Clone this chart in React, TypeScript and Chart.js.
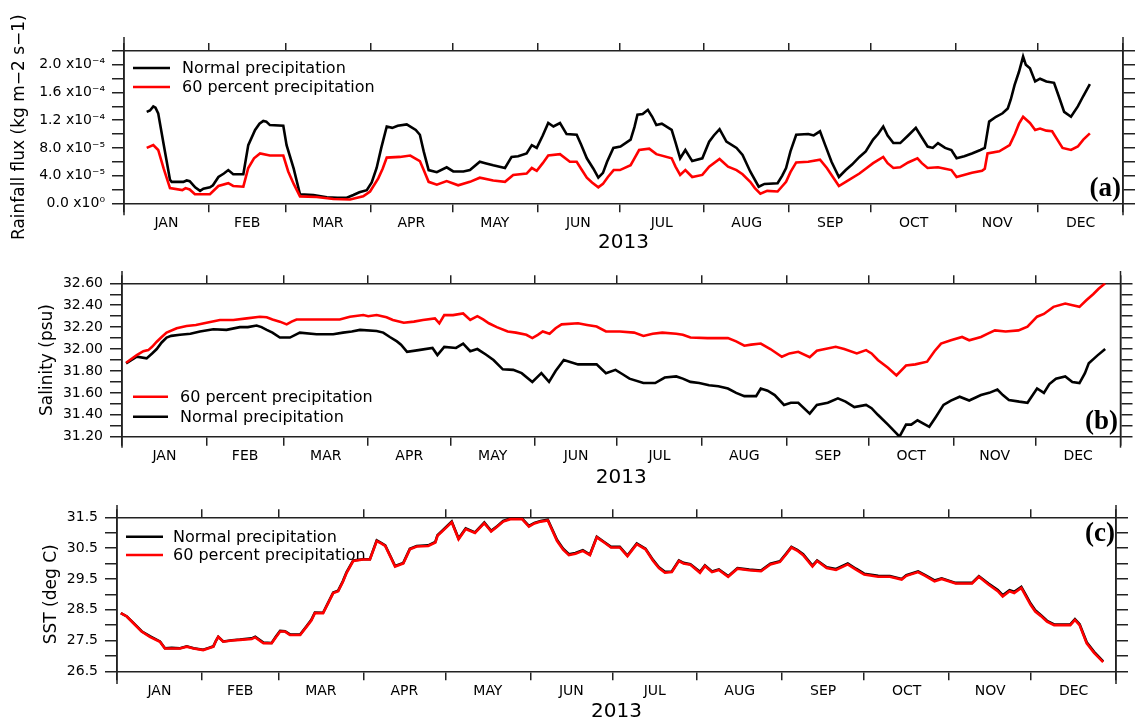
import React, { useEffect, useRef } from 'react';
import { Chart, registerables } from 'chart.js';

Chart.register(...registerables);

type Pt = [number, number];

// ---------- shared axis data ----------
const monthStarts = [0, 31, 59, 90, 120, 151, 181, 212, 243, 273, 304, 334, 365];
const monthLabels = ['JAN', 'FEB', 'MAR', 'APR', 'MAY', 'JUN', 'JUL', 'AUG', 'SEP', 'OCT', 'NOV', 'DEC'];
const yearLabel = '2013';
const normalLabel = 'Normal precipitation';
const sixtyLabel = '60 percent precipitation';

// ---------- panel (a) rainfall flux, values in units of 1e-5 kg m-2 s-1 ----------
const rainTicks = [0, 2, 4, 6, 8, 10, 12, 14, 16, 18, 20, 22];
const rainLabelValues = [0, 4, 8, 12, 16, 20];
const rainLabels = ['0.0 x10⁰', '4.0 x10⁻⁵', '8.0 x10⁻⁵', '1.2 x10⁻⁴', '1.6 x10⁻⁴', '2.0 x10⁻⁴'];
const rainNormal: Pt[] = [
  [8.3, 13.2], [9.5, 13.4], [10.7, 14.0], [11.5, 13.8], [12.5, 13.0], [14.5, 8.5], [16.8, 3.4], [17.4, 3.1], [21.7, 3.1], [22.9, 3.3],
  [24, 3.2], [26, 2.3], [27.8, 1.8], [29, 2.1], [31.4, 2.3], [32.5, 2.6], [34.5, 3.8], [36.5, 4.3], [38.1, 4.8], [39.9, 4.2],
  [43.6, 4.2], [45.4, 8.4], [47.9, 10.6], [49.5, 11.5], [50.9, 11.9], [52, 11.8], [53.3, 11.3], [58.2, 11.2], [59.4, 8.4], [62, 5.0],
  [64.3, 1.3], [69.2, 1.2], [74.1, 0.87], [78, 0.8], [81.4, 0.8], [83.8, 1.2], [86, 1.6], [88.7, 1.9], [90.5, 3.0], [92.3, 5.1],
  [94, 8.0], [96, 11.1], [98, 10.9], [100, 11.2], [103.3, 11.4], [106.6, 10.6], [108.1, 9.9], [109.5, 7.5], [111.3, 4.8], [114.3, 4.5],
  [117.9, 5.2], [120.3, 4.6], [124, 4.6], [126.4, 4.8], [130, 6.0], [132, 5.8], [134.9, 5.5], [139.2, 5.1], [141.6, 6.7], [144, 6.8],
  [147.1, 7.2], [149, 8.4], [150.8, 8.0], [153, 9.8], [155, 11.6], [156.9, 11.1], [159.3, 11.6], [161.7, 10.0], [165.4, 9.9], [167, 8.5],
  [169.1, 6.5], [171.5, 5.0], [173.3, 3.7], [175, 4.4], [176.5, 6.0], [178.8, 8.0], [181.4, 8.2], [185.1, 9.2], [186.5, 11.0], [187.6, 12.8],
  [189.5, 12.9], [191.4, 13.5], [193, 12.5], [194.5, 11.3], [196.5, 11.5], [200.1, 10.6], [201.5, 8.8], [203.2, 6.5], [205.1, 7.7], [207.6, 6.1],
  [211.3, 6.5], [213.8, 8.9], [215.5, 9.8], [217.6, 10.7], [220.1, 8.9], [223.8, 8.0], [226, 7.0], [228.8, 4.6], [231.9, 2.4], [234, 2.8],
  [238.8, 2.9], [240.5, 4.0], [241.9, 5.1], [243.5, 7.5], [245.6, 9.9], [250, 10.0], [252, 9.8], [254.3, 10.4], [256.2, 8.4], [258.5, 6.0],
  [261.2, 3.8], [263.7, 4.8], [266, 5.6], [268.7, 6.7], [271, 7.5], [273.7, 9.2], [275.5, 10.0], [277.4, 11.1], [279, 9.8], [281.1, 8.7],
  [283.6, 8.7], [286.5, 9.8], [289.3, 10.9], [291.5, 9.5], [293.6, 8.2], [295.5, 8.0], [297.4, 8.7], [300, 8.0], [302.3, 7.7], [304.2, 6.5],
  [307, 6.8], [309.8, 7.2], [312.9, 7.7], [314.5, 8.0], [316.1, 11.8], [318.6, 12.5], [321, 13.0], [322.9, 13.7], [324, 15.0], [325.4, 17.1],
  [327, 19.0], [328.5, 21.2], [329.5, 20.0], [331, 19.5], [332.9, 17.6], [334.7, 18.0], [337, 17.6], [339.8, 17.4], [341.5, 15.5], [343.5, 13.2],
  [346, 12.5], [348.5, 14.0], [350.5, 15.5], [352.9, 17.2],
];
const rainSixty: Pt[] = [
  [8.3, 8.0], [10.7, 8.4], [12.5, 7.7], [14.5, 5.0], [16.8, 2.2], [21.3, 1.9], [22.5, 2.2], [24, 2.0], [25.9, 1.3], [31.4, 1.3],
  [34.5, 2.5], [38.1, 2.9], [39.9, 2.5], [43.6, 2.4], [45.4, 5.1], [47.5, 6.5], [49.7, 7.2], [53.3, 6.9], [58.2, 6.9], [60, 4.6],
  [62, 2.8], [64.3, 1.0], [70.4, 0.9], [76.5, 0.62], [82.6, 0.55], [87.4, 1.0], [89.9, 1.7], [92.9, 3.6], [94.5, 5.0], [96, 6.6],
  [100.8, 6.7], [104.6, 6.9], [108.1, 6.1], [109.5, 4.8], [111.3, 3.1], [114.3, 2.7], [117.9, 3.2], [122.1, 2.6], [126.4, 3.1], [130, 3.7],
  [134.9, 3.3], [139.2, 3.1], [142.2, 4.1], [147.1, 4.3], [149, 5.1], [150.8, 4.7], [153, 5.8], [155, 6.9], [159.3, 7.1], [162.9, 6.0],
  [165.4, 6.0], [167, 5.0], [169.1, 3.7], [171, 3.0], [173.3, 2.3], [175, 2.8], [176.8, 3.8], [178.9, 4.8], [181.2, 4.8], [185.1, 5.5],
  [186.5, 6.5], [188.2, 7.7], [191.9, 7.9], [194.5, 7.1], [200.1, 6.5], [201.5, 5.3], [203.2, 4.1], [205.1, 4.8], [207.6, 3.8], [211.3, 4.1],
  [213.8, 5.3], [217.6, 6.4], [220.7, 5.3], [223.8, 4.8], [226, 4.2], [228.8, 3.1], [230.5, 2.2], [232.5, 1.4], [235, 1.8], [238.8, 1.7],
  [241.9, 3.1], [243.5, 4.5], [245.6, 5.9], [250, 6.0], [254.3, 6.3], [256.8, 5.1], [259, 3.8], [261.2, 2.5], [263.7, 3.1], [268.7, 4.3],
  [271, 5.0], [273.7, 5.8], [277.4, 6.7], [279, 5.8], [281.1, 5.1], [283.6, 5.2], [286.5, 5.9], [289.9, 6.5], [291.5, 5.8], [293.6, 5.1],
  [297.4, 5.2], [300, 5.0], [302.3, 4.8], [304.2, 3.8], [309.8, 4.4], [313.5, 4.7], [314.5, 5.0], [315.5, 7.2], [319.8, 7.5], [323.6, 8.4],
  [325.5, 10.0], [327, 11.5], [328.5, 12.5], [331, 11.6], [332.9, 10.6], [334.7, 10.8], [337, 10.5], [339.1, 10.4], [341, 9.2], [342.9, 8.0],
  [346, 7.7], [348.5, 8.2], [350.5, 9.2], [352.9, 10.1],
];

// ---------- panel (b) salinity (psu) ----------
const salTicks = [31.2, 31.3, 31.4, 31.5, 31.6, 31.7, 31.8, 31.9, 32.0, 32.1, 32.2, 32.3, 32.4, 32.5, 32.6];
const salLabelValues = [31.2, 31.4, 31.6, 31.8, 32.0, 32.2, 32.4, 32.6];
const salLabels = ['31.20', '31.40', '31.60', '31.80', '32.00', '32.20', '32.40', '32.60'];
const salSixty: Pt[] = [
  [1.5, 31.875], [5.4, 31.945], [7.8, 31.98], [9.6, 31.99], [11, 32.02], [12.7, 32.067], [14.5, 32.11], [16.3, 32.15], [20, 32.19], [23.6, 32.21],
  [27, 32.22], [30.9, 32.24], [35.8, 32.265], [40.7, 32.265], [45.6, 32.28], [50.4, 32.295], [52.9, 32.29], [55, 32.27], [57.7, 32.25], [60.2, 32.225],
  [62, 32.25], [63.8, 32.27], [71.1, 32.27], [79.6, 32.27], [83.3, 32.295], [88.2, 32.31], [90, 32.3], [93.1, 32.31], [96.7, 32.29], [99, 32.265],
  [101.6, 32.25], [103, 32.24], [106.7, 32.25], [110, 32.265], [114.4, 32.28], [116, 32.235], [117.8, 32.31], [121, 32.31], [124.7, 32.325], [127.3, 32.265],
  [129.9, 32.3], [132, 32.27], [134.1, 32.235], [137, 32.2], [141, 32.16], [144, 32.15], [147.8, 32.13], [150, 32.1], [152, 32.13], [153.8, 32.16],
  [156.3, 32.14], [158.5, 32.19], [160.7, 32.225], [166.7, 32.235], [170, 32.22], [173.5, 32.205], [176.9, 32.16], [182, 32.16], [187.2, 32.15], [190.6, 32.12],
  [194, 32.14], [197.5, 32.15], [202.6, 32.14], [205, 32.13], [207.8, 32.105], [214, 32.1], [221.5, 32.1], [224.5, 32.07], [227.5, 32.03], [230, 32.04],
  [233.5, 32.05], [237, 32.0], [241.2, 31.93], [244, 31.96], [247.2, 31.975], [251.4, 31.925], [254, 31.985], [257, 32.0], [260.9, 32.02], [264, 32.0],
  [268.6, 31.96], [272, 31.99], [274, 31.96], [276.3, 31.9], [280, 31.83], [283.1, 31.76], [286.6, 31.85], [290, 31.86], [294.3, 31.885], [297, 31.98],
  [299.4, 32.05], [303, 32.08], [307.1, 32.11], [309.7, 32.08], [314, 32.11], [316.5, 32.14], [319.1, 32.17], [323, 32.16], [327.7, 32.17], [331, 32.205],
  [334.5, 32.295], [337, 32.32], [340.5, 32.385], [344.8, 32.415], [347.5, 32.4], [350, 32.385], [352.5, 32.445], [355, 32.5], [357, 32.55], [359.4, 32.6],
];
const salNormal: Pt[] = [
  [1.5, 31.87], [5.4, 31.93], [9, 31.915], [11, 31.96], [12.7, 32.0], [14.5, 32.06], [16.3, 32.105], [18, 32.12], [21.2, 32.13], [25, 32.14],
  [28.5, 32.16], [33.4, 32.18], [38.2, 32.175], [43.1, 32.2], [46, 32.2], [49.2, 32.215], [51, 32.2], [52.9, 32.175], [55, 32.15], [57.7, 32.105],
  [61.4, 32.105], [65, 32.15], [71.1, 32.135], [77.2, 32.135], [80.8, 32.15], [84, 32.16], [87, 32.175], [93.1, 32.165], [95.5, 32.15], [97.9, 32.11],
  [100.5, 32.07], [102, 32.04], [104.2, 31.975], [108.4, 31.99], [113.5, 32.01], [115.3, 31.945], [117.8, 32.02], [122.1, 32.01], [124.7, 32.05], [127.3, 31.98],
  [129.9, 32.0], [133, 31.95], [135.8, 31.9], [139.2, 31.815], [143, 31.81], [146.1, 31.78], [150, 31.7], [153.3, 31.78], [156.1, 31.7], [158.5, 31.8],
  [161.5, 31.9], [166.7, 31.86], [170, 31.86], [173.5, 31.86], [176.9, 31.78], [180.4, 31.81], [183, 31.77], [185.5, 31.73], [190.6, 31.69], [194.9, 31.69],
  [198.4, 31.74], [202.6, 31.75], [205, 31.73], [207.8, 31.7], [211, 31.69], [214.6, 31.67], [218, 31.66], [221.5, 31.64], [224.5, 31.6], [227.5, 31.57],
  [231.8, 31.57], [233.5, 31.64], [236, 31.62], [238.6, 31.58], [242, 31.49], [244.5, 31.51], [247.2, 31.51], [251.4, 31.41], [254, 31.49], [258, 31.51],
  [261.7, 31.55], [264.5, 31.52], [267.7, 31.47], [272, 31.49], [274, 31.46], [276.3, 31.4], [280, 31.31], [283.1, 31.23], [284.2, 31.2], [286.6, 31.31],
  [288.5, 31.31], [290.8, 31.35], [295.1, 31.29], [297.5, 31.38], [300.3, 31.49], [303, 31.53], [306.2, 31.565], [309.7, 31.53], [314, 31.58], [317, 31.6],
  [320, 31.63], [322, 31.58], [324.2, 31.535], [328, 31.52], [331, 31.51], [334.5, 31.64], [337, 31.6], [339, 31.68], [341.4, 31.73], [344.8, 31.75],
  [347.4, 31.7], [350, 31.69], [352, 31.78], [353.4, 31.87], [356.5, 31.94], [359.4, 32.0],
];

// ---------- panel (c) SST (deg C) ----------
const sstTicks = [26.5, 27, 27.5, 28, 28.5, 29, 29.5, 30, 30.5, 31, 31.5];
const sstLabelValues = [26.5, 27.5, 28.5, 29.5, 30.5, 31.5];
const sstLabels = ['26.5', '27.5', '28.5', '29.5', '30.5', '31.5'];
const sstSixty: Pt[] = [
  [1.4, 28.39], [3.6, 28.28], [6, 28.06], [9, 27.79], [12, 27.62], [15.7, 27.46], [17.5, 27.24], [20, 27.24], [23, 27.24], [25.5, 27.3],
  [28, 27.24], [31.5, 27.19], [33.5, 27.25], [35.2, 27.3], [36.2, 27.5], [37, 27.62], [38.8, 27.46], [42, 27.5], [44.9, 27.52], [49.2, 27.55],
  [50.5, 27.6], [53.5, 27.41], [56.5, 27.41], [58, 27.6], [59.6, 27.79], [61.4, 27.79], [63.2, 27.68], [66.9, 27.68], [69.3, 27.95], [71, 28.15],
  [72.3, 28.39], [75.3, 28.39], [77.2, 28.72], [79, 29.04], [80.8, 29.1], [82.5, 29.4], [83.9, 29.7], [86.3, 30.08], [89.9, 30.13], [92.4, 30.13],
  [94.9, 30.73], [96.5, 30.65], [98, 30.57], [100, 30.2], [101.6, 29.9], [104.6, 30.0], [107, 30.46], [109.5, 30.55], [113.7, 30.57], [116.3, 30.68],
  [117.1, 30.9], [119.5, 31.1], [122.3, 31.34], [124.8, 30.79], [127.4, 31.12], [130.8, 30.99], [134.2, 31.31], [136.7, 31.04], [139, 31.2], [141.1, 31.36],
  [143.7, 31.44], [148, 31.44], [150.5, 31.2], [152.5, 31.3], [154.8, 31.36], [157.4, 31.4], [160.8, 30.73], [163, 30.45], [165.1, 30.27], [167.5, 30.32],
  [170.2, 30.41], [172.8, 30.27], [175.3, 30.85], [178, 30.68], [180.5, 30.52], [183.7, 30.52], [186.5, 30.24], [189.9, 30.63], [193.1, 30.46], [195.9, 30.08],
  [198, 29.85], [200.2, 29.7], [202.7, 29.72], [205.3, 30.08], [207, 30.0], [209.5, 29.96], [213, 29.7], [214.8, 29.92], [217.4, 29.72], [219.9, 29.79],
  [223.3, 29.57], [226.7, 29.83], [231, 29.78], [235.3, 29.75], [238.7, 29.97], [242.2, 30.05], [244.5, 30.3], [246.4, 30.52], [248.5, 30.42], [250.7, 30.27],
  [254.1, 29.9], [255.8, 30.08], [259.3, 29.85], [262.7, 29.79], [267, 29.97], [270, 29.8], [273, 29.64], [278.1, 29.57], [282.4, 29.57], [286.7, 29.48],
  [288.4, 29.6], [292.7, 29.72], [295.3, 29.6], [298.7, 29.42], [301.3, 29.5], [306.4, 29.35], [312.4, 29.35], [314.9, 29.57], [318.4, 29.32], [321.8, 29.1],
  [323.6, 28.93], [326.1, 29.1], [327.8, 29.04], [330.4, 29.21], [332, 28.95], [333.8, 28.66], [335.5, 28.44], [337.5, 28.3], [339.8, 28.11], [342.4, 28.0],
  [348.3, 28.0], [350, 28.17], [351.7, 28.0], [354.3, 27.41], [357, 27.1], [360.3, 26.8],
];
const sstNormal: Pt[] = [
  [1.4, 28.39], [3.6, 28.28], [6, 28.07], [9, 27.8], [12, 27.64], [15.7, 27.47], [17.5, 27.25], [20, 27.26], [23, 27.25], [25.5, 27.31],
  [28, 27.25], [31.5, 27.2], [33.5, 27.26], [35.2, 27.31], [36.2, 27.5], [37, 27.62], [38.8, 27.47], [42, 27.51], [44.9, 27.53], [49.2, 27.57],
  [50.5, 27.62], [53.5, 27.43], [56.5, 27.42], [58, 27.62], [59.6, 27.81], [61.4, 27.8], [63.2, 27.7], [66.9, 27.69], [69.3, 27.97], [71, 28.17],
  [72.3, 28.41], [75.3, 28.4], [77.2, 28.74], [79, 29.06], [80.8, 29.12], [82.5, 29.42], [83.9, 29.72], [86.3, 30.1], [89.9, 30.14], [92.4, 30.14],
  [94.9, 30.75], [96.5, 30.67], [98, 30.59], [100, 30.22], [101.6, 29.92], [104.6, 30.02], [107, 30.48], [109.5, 30.57], [113.7, 30.59], [116.3, 30.7],
  [117.1, 30.92], [119.5, 31.12], [122.3, 31.36], [124.8, 30.81], [127.4, 31.14], [130.8, 31.01], [134.2, 31.33], [136.7, 31.06], [139, 31.22], [141.1, 31.38],
  [143.7, 31.46], [148, 31.46], [150.5, 31.22], [152.5, 31.32], [154.8, 31.38], [157.4, 31.42], [160.8, 30.76], [163, 30.48], [165.1, 30.3], [167.5, 30.34],
  [170.2, 30.43], [172.8, 30.29], [175.3, 30.87], [178, 30.7], [180.5, 30.54], [183.7, 30.54], [186.5, 30.26], [189.9, 30.65], [193.1, 30.48], [195.9, 30.11],
  [198, 29.88], [200.2, 29.73], [202.7, 29.74], [205.3, 30.1], [207, 30.02], [209.5, 29.98], [213, 29.73], [214.8, 29.94], [217.4, 29.74], [219.9, 29.81],
  [223.3, 29.59], [226.7, 29.85], [231, 29.8], [235.3, 29.77], [238.7, 29.99], [242.2, 30.07], [244.5, 30.32], [246.4, 30.54], [248.5, 30.44], [250.7, 30.3],
  [254.1, 29.93], [255.8, 30.1], [259.3, 29.88], [262.7, 29.82], [267, 30.0], [270, 29.83], [273, 29.67], [278.1, 29.6], [282.4, 29.59], [286.7, 29.5],
  [288.4, 29.62], [292.7, 29.74], [295.3, 29.62], [298.7, 29.45], [301.3, 29.52], [306.4, 29.37], [312.4, 29.37], [314.9, 29.59], [318.4, 29.35], [321.8, 29.14],
  [323.6, 28.97], [326.1, 29.13], [327.8, 29.08], [330.4, 29.24], [332, 28.99], [333.8, 28.7], [335.5, 28.48], [337.5, 28.33], [339.8, 28.14], [342.4, 28.02],
  [348.3, 28.02], [350, 28.19], [351.7, 28.03], [354.3, 27.44], [357, 27.13], [360.3, 26.82],
];

// ---------- colours ----------
const BLACK = '#000000';
const RED = '#ff0000';

interface Series { label: string; color: string; data: Pt[]; order: number }
interface Panel {
  canvasTop: number; canvasH: number;
  areaLeft: number; areaRight: number; areaTop: number; areaBottom: number;
  yMin: number; yMax: number; yTicks: number[]; yLabelValues: number[]; yLabels: string[];
  yTitle: string; yTitleCenterX: number; yearCenterY: number;
  series: Series[]; legendOrder: number[];
  legendTop: number; legendRow: number; legendLineX: number; legendLineLen: number; legendTextX: number;
  tag: string; tagRight: number; tagBaseline: number;
  extTop: number; extBottom: number;
}

const W = 1135;

const panels: Panel[] = [
  {
    canvasTop: 0, canvasH: 258, areaLeft: 124, areaRight: 1123, areaTop: 51, areaBottom: 203.3,
    yMin: 0, yMax: 22, yTicks: rainTicks, yLabelValues: rainLabelValues, yLabels: rainLabels,
    yTitle: 'Rainfall flux (kg m−2 s−1)', yTitleCenterX: 20, yearCenterY: 243,
    series: [
      { label: normalLabel, color: BLACK, data: rainNormal, order: 1 },
      { label: sixtyLabel, color: RED, data: rainSixty, order: 0 },
    ],
    legendOrder: [0, 1], legendTop: 17, legendRow: 19, legendLineX: 9, legendLineLen: 37, legendTextX: 58,
    tag: '(a)', tagRight: 2, tagBaseline: 196, extTop: 14, extBottom: 12,
  },
  {
    canvasTop: 258, canvasH: 234, areaLeft: 122, areaRight: 1120.5, areaTop: 25.3, areaBottom: 178.7,
    yMin: 31.2, yMax: 32.6, yTicks: salTicks, yLabelValues: salLabelValues, yLabels: salLabels,
    yTitle: 'Salinity (psu)', yTitleCenterX: 47.5, yearCenterY: 220,
    series: [
      { label: normalLabel, color: BLACK, data: salNormal, order: 1 },
      { label: sixtyLabel, color: RED, data: salSixty, order: 0 },
    ],
    legendOrder: [1, 0], legendTop: 113.4, legendRow: 20, legendLineX: 11, legendLineLen: 35, legendTextX: 58,
    tag: '(b)', tagRight: 2.5, tagBaseline: 171, extTop: 12.3, extBottom: 11,
  },
  {
    canvasTop: 492, canvasH: 232, areaLeft: 117, areaRight: 1116, areaTop: 25.3, areaBottom: 179.3,
    yMin: 26.5, yMax: 31.5, yTicks: sstTicks, yLabelValues: sstLabelValues, yLabels: sstLabels,
    yTitle: 'SST (deg C)', yTitleCenterX: 51.5, yearCenterY: 221,
    series: [
      { label: normalLabel, color: BLACK, data: sstNormal, order: 1 },
      { label: sixtyLabel, color: RED, data: sstSixty, order: 0 },
    ],
    legendOrder: [0, 1], legendTop: 19.4, legendRow: 18.3, legendLineX: 9, legendLineLen: 37, legendTextX: 56,
    tag: '(c)', tagRight: 1, tagBaseline: 49, extTop: 12.3, extBottom: 12.7,
  },
];

const AXIS = '#222222';
const AXIS_W = 1.5;
const FONT = 'DejaVu Sans';

const decorPlugin = {
  id: 'panelDecor',
  beforeDatasetsDraw(chart: any, _args: any, opts: any) {
    const { ctx, chartArea: a } = chart;
    ctx.save();
    (opts.legendOrder as number[]).forEach((di, row) => {
      const ds = chart.data.datasets[di];
      const y = a.top + opts.legendTop + row * opts.legendRow;
      ctx.strokeStyle = ds.borderColor;
      ctx.lineWidth = 2.5;
      ctx.beginPath();
      ctx.moveTo(a.left + opts.legendLineX, y);
      ctx.lineTo(a.left + opts.legendLineX + opts.legendLineLen, y);
      ctx.stroke();
      ctx.fillStyle = '#000';
      ctx.font = `16px "${FONT}"`;
      ctx.textAlign = 'left';
      ctx.textBaseline = 'middle';
      ctx.fillText(ds.label, a.left + opts.legendTextX, y + 1);
    });
    ctx.fillStyle = '#000';
    ctx.font = 'bold 27px "Liberation Serif"';
    ctx.textAlign = 'right';
    ctx.textBaseline = 'alphabetic';
    ctx.fillText(opts.tag, a.right - opts.tagRight, opts.tagBaseline);
    ctx.restore();
  },
  afterDraw(chart: any, _args: any, opts: any) {
    const { ctx, chartArea: a } = chart;
    ctx.save();
    ctx.strokeStyle = AXIS;
    ctx.lineWidth = AXIS_W;
    [a.left, a.right].forEach((x: number) => {
      ctx.beginPath();
      ctx.moveTo(x, a.top - opts.extTop);
      ctx.lineTo(x, a.bottom + opts.extBottom);
      ctx.stroke();
    });
    ctx.restore();
  },
};

function buildChart(canvas: HTMLCanvasElement, p: Panel): Chart {
  const mids = monthLabels.map((_, i) => (monthStarts[i] + monthStarts[i + 1]) / 2);
  const bottomTickValues = [...monthStarts, ...mids].sort((a, b) => a - b);
  const labelFor = (v: number) => {
    const i = p.yLabelValues.findIndex((l) => Math.abs(l - v) < 1e-6);
    return i >= 0 ? p.yLabels[i] : '';
  };
  const border = { display: true, color: AXIS, width: AXIS_W };
  const yearPad = Math.max(0, p.canvasH - p.yearCenterY - 12);

  return new Chart(canvas, {
    type: 'line',
    data: {
      datasets: p.series.map((s) => ({
        label: s.label,
        data: s.data.map(([x, y]) => ({ x, y })),
        borderColor: s.color,
        backgroundColor: s.color,
        borderWidth: 2.6,
        pointRadius: 0,
        tension: 0,
        fill: false,
        order: s.order,
        xAxisID: 'x',
        yAxisID: 'y',
      })),
    },
    options: {
      responsive: false,
      animation: false,
      events: [],
      layout: { padding: 0 },
      plugins: {
        legend: { display: false },
        tooltip: { enabled: false },
        panelDecor: {
          legendOrder: p.legendOrder, legendTop: p.legendTop, legendRow: p.legendRow,
          legendLineX: p.legendLineX, legendLineLen: p.legendLineLen, legendTextX: p.legendTextX,
          tag: p.tag, tagRight: p.tagRight, tagBaseline: p.tagBaseline,
          extTop: p.extTop, extBottom: p.extBottom,
        },
      } as any,
      scales: {
        x: {
          type: 'linear', position: 'bottom', min: 0, max: 365,
          afterBuildTicks: (s: any) => { s.ticks = bottomTickValues.map((v) => ({ value: v })); },
          ticks: {
            autoSkip: false, maxRotation: 0, minRotation: 0, padding: 2.5, color: '#000',
            font: { family: FONT, size: 14 },
            callback: (v: any) => { const i = mids.indexOf(Number(v)); return i >= 0 ? monthLabels[i] : ''; },
          },
          grid: {
            drawOnChartArea: false, drawTicks: true, tickLength: 9, lineWidth: AXIS_W,
            color: (c: any) => (c.tick && monthStarts.includes(c.tick.value) ? AXIS : 'rgba(0,0,0,0)'),
          },
          border,
          title: { display: true, text: yearLabel, color: '#000', font: { family: FONT, size: 20 }, padding: { top: 0, bottom: yearPad } },
          afterFit: (s: any) => { s.height = p.canvasH - p.areaBottom; },
        },
        xTop: {
          type: 'linear', position: 'top', min: 0, max: 365,
          afterBuildTicks: (s: any) => { s.ticks = monthStarts.map((v) => ({ value: v })); },
          ticks: { display: false },
          grid: { drawOnChartArea: false, drawTicks: true, tickLength: 8, lineWidth: AXIS_W, color: AXIS },
          border,
          afterFit: (s: any) => { s.height = p.areaTop; },
        },
        y: {
          type: 'linear', position: 'left', min: p.yMin, max: p.yMax,
          afterBuildTicks: (s: any) => { s.ticks = p.yTicks.map((v) => ({ value: v })); },
          ticks: {
            autoSkip: false, padding: 7, color: '#000', font: { family: FONT, size: 14 },
            callback: (v: any) => labelFor(Number(v)),
          },
          grid: { drawOnChartArea: false, drawTicks: true, tickLength: 12, lineWidth: AXIS_W, color: AXIS },
          border,
          title: {
            display: true, text: p.yTitle, color: '#000', font: { family: FONT, size: 17 },
            padding: { top: p.yTitleCenterX - 10.2, bottom: 0 },
          },
          afterFit: (s: any) => { s.width = p.areaLeft; },
        },
        yRight: {
          type: 'linear', position: 'right', min: p.yMin, max: p.yMax,
          afterBuildTicks: (s: any) => { s.ticks = p.yTicks.map((v) => ({ value: v })); },
          ticks: { display: false },
          grid: { drawOnChartArea: false, drawTicks: true, tickLength: 12, lineWidth: AXIS_W, color: AXIS },
          border,
          afterFit: (s: any) => { s.width = W - p.areaRight; },
        },
      } as any,
    },
    plugins: [decorPlugin as any],
  } as any);
}

function PanelChart({ panel }: { panel: Panel }) {
  const ref = useRef<HTMLCanvasElement | null>(null);
  useEffect(() => {
    if (!ref.current) return;
    const chart = buildChart(ref.current, panel);
    return () => chart.destroy();
  }, [panel]);
  return (
    <canvas
      ref={ref}
      width={W}
      height={panel.canvasH}
      style={{ position: 'absolute', left: 0, top: panel.canvasTop, width: W, height: panel.canvasH, display: 'block' }}
    />
  );
}

export default function App() {
  return (
    <div style={{ position: 'absolute', left: 0, top: 0, width: W, height: 724, overflow: 'hidden', background: '#fff' }}>
      {panels.map((p, i) => (
        <PanelChart key={i} panel={p} />
      ))}
    </div>
  );
}
